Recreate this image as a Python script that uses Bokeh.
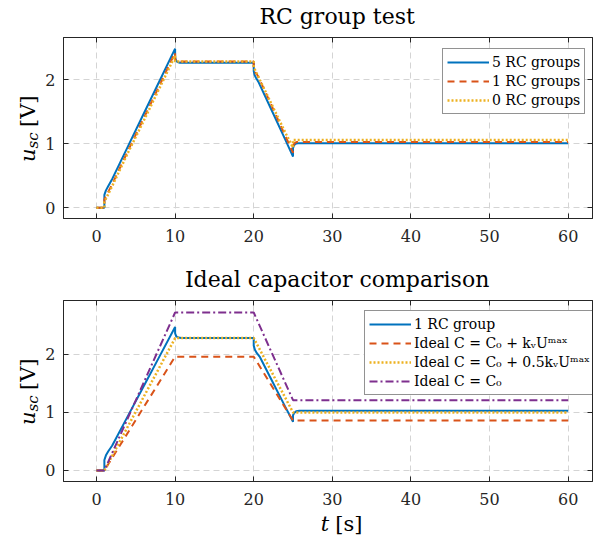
import math
from bokeh.plotting import figure
from bokeh.models import Range1d, LinearAxis, Label, Legend, LegendItem
from bokeh.layouts import column, row
from bokeh.embed import file_html
from bokeh.resources import INLINE

FONT = "DejaVu Serif"
INK = "#262626"
BLUE = "#0072BD"
ORANGE = "#D95319"
YELLOW = "#EDB120"
PURPLE = "#7E2F8E"

x_ticks = [0, 10, 20, 30, 40, 50, 60]
y_ticks = [0, 1, 2]

# ---- top panel: RC group test ----
t_rc5 = [0, 1, 1, 1.2, 1.5, 2, 4, 6, 8, 10, 10, 10.1, 10.3, 10.6, 20, 20, 20.1, 20.3, 20.6, 22, 24, 25, 25, 25.1, 25.3, 25.6, 60]
u_rc5 = [0, 0, 0.20, 0.27, 0.34, 0.45, 0.96, 1.47, 1.98, 2.49, 2.36, 2.31, 2.28, 2.27, 2.27, 2.14, 2.08, 2.03, 1.97, 1.60, 1.07, 0.80, 0.93, 0.97, 1.00, 1.01, 1.01]

t_rc1 = [0, 1, 1, 1.3, 2, 4, 6, 8, 10, 10, 10.2, 10.5, 20, 20, 20.2, 20.5, 22, 24, 25, 25, 25.2, 25.5, 60]
u_rc1 = [0, 0, 0.13, 0.20, 0.37, 0.89, 1.40, 1.91, 2.43, 2.33, 2.30, 2.29, 2.29, 2.17, 2.12, 2.07, 1.67, 1.13, 0.86, 0.97, 1.01, 1.03, 1.03]

t_rc0 = [0, 1, 1, 2, 4, 6, 8, 10, 10, 20, 20, 22, 24, 25, 25, 60]
u_rc0 = [0, 0, 0.09, 0.34, 0.86, 1.36, 1.87, 2.38, 2.29, 2.29, 2.20, 1.69, 1.18, 0.94, 1.06, 1.06]

# ---- bottom panel: ideal capacitor comparison ----
t_b1 = [0, 1, 1, 1.2, 1.5, 2, 4, 6, 8, 10, 10, 10.15, 10.4, 10.8, 20, 20, 20.15, 20.4, 20.8, 22, 24, 25, 25, 25.15, 25.4, 25.8, 60]
u_b1 = [0, 0, 0.18, 0.26, 0.33, 0.43, 0.94, 1.45, 1.96, 2.47, 2.36, 2.31, 2.29, 2.28, 2.28, 2.15, 2.08, 2.02, 1.95, 1.63, 1.10, 0.84, 0.95, 0.99, 1.02, 1.03, 1.03]

t_ideal = [0, 1, 10, 20, 25, 60]
u_ideal_kv = [0, 0, 1.96, 1.96, 0.86, 0.86]
u_ideal_half = [0, 0, 2.28, 2.28, 1.00, 1.00]
u_ideal_c0 = [0, 0, 2.72, 2.72, 1.21, 1.21]

top_labels = ["5 RC groups", "1 RC groups", "0 RC groups"]
bottom_labels = ["1 RC group",
                 "Ideal C = C\u2080 + k\u1d65U\u1d50\u1d43\u02e3",
                 "Ideal C = C\u2080 + 0.5k\u1d65U\u1d50\u1d43\u02e3",
                 "Ideal C = C\u2080"]
titles = ["RC group test", "Ideal capacitor comparison"]

LW = 42       # left label strip width
MW = 551      # main column width
FH = 181      # frame height
BB = 32       # bottom border (tick labels)


def text_fig(w, h):
    f = figure(width=w, height=h, x_range=Range1d(0, w), y_range=Range1d(0, h),
               output_backend="svg", toolbar_location=None, min_border=0,
               min_border_left=0, min_border_right=0, min_border_top=0, min_border_bottom=0,
               x_axis_location=None, y_axis_location=None)
    f.outline_line_color = None
    f.grid.visible = False
    f.background_fill_color = "white"
    f.border_fill_color = "white"
    return f


def make_fig(yr):
    p = figure(width=MW, height=1 + FH + BB, x_range=Range1d(-4.2, 63.1), y_range=Range1d(*yr),
               output_backend="svg", toolbar_location=None,
               min_border_left=20, min_border_right=1, min_border_top=1, min_border_bottom=BB)
    p.outline_line_color = INK
    p.outline_line_width = 1
    p.background_fill_color = "white"
    p.border_fill_color = "white"
    for ax in (p.xaxis[0], p.yaxis[0]):
        ax.axis_line_color = INK
        ax.major_tick_line_color = INK
        ax.major_tick_in = 5
        ax.major_tick_out = 0
        ax.minor_tick_line_color = None
        ax.major_label_text_font = FONT
        ax.major_label_text_font_size = "16px"
        ax.major_label_text_color = INK
    p.xaxis[0].major_label_standoff = 11
    p.yaxis[0].major_label_standoff = 8
    p.xaxis[0].ticker = x_ticks
    p.yaxis[0].ticker = y_ticks
    for place, ticks in (("above", x_ticks), ("right", y_ticks)):
        ax = LinearAxis(ticker=ticks, major_tick_in=5, major_tick_out=0,
                        axis_line_color=INK, major_tick_line_color=INK,
                        minor_tick_line_color=None, major_label_text_font_size="0px",
                        major_label_text_color=None, major_label_standoff=0)
        p.add_layout(ax, place)
    for g in (p.xgrid[0], p.ygrid[0]):
        g.grid_line_color = "#d4d4d4"
        g.grid_line_dash = "6 4"
        g.grid_line_width = 1
    return p


def add_legend(p, items, loc):
    leg = Legend(items=items, location=loc)
    leg.border_line_color = INK
    leg.border_line_width = 1
    leg.background_fill_color = "white"
    leg.background_fill_alpha = 1
    leg.label_text_font = FONT
    leg.label_text_font_size = "14px"
    leg.label_text_color = "black"
    leg.glyph_width = 42
    leg.glyph_height = 18
    leg.label_height = 18
    leg.label_standoff = 3
    leg.padding = 4
    leg.spacing = 1
    leg.margin = 0
    p.add_layout(leg)


def add_ylabel(f, yc):
    y0 = yc - 34
    common = dict(x_units="data", y_units="data", angle=math.pi / 2, text_color="black",
                  text_font=FONT, text_align="left", text_baseline="middle")
    f.add_layout(Label(x=27, y=y0, text="u", text_font_style="italic", text_font_size="21px", **common))
    f.add_layout(Label(x=32.3, y=y0 + 13.5, text="sc", text_font_style="italic", text_font_size="15px", **common))
    f.add_layout(Label(x=27, y=y0 + 35, text="[V]", text_font_size="21px", **common))


def add_title(f, text, y):
    f.add_layout(Label(x=285, y=y, text=text, text_font=FONT, text_font_size="22px",
                       text_color="black", text_align="center", text_baseline="middle"))


# ---- top figure ----
p1 = make_fig((-0.17, 2.665))
r1 = p1.line(t_rc5, u_rc5, line_color=BLUE, line_width=2)
r2 = p1.line(t_rc1, u_rc1, line_color=ORANGE, line_width=2, line_dash="7 5")
r3 = p1.line(t_rc0, u_rc0, line_color=YELLOW, line_width=2.5, line_dash="2 2")
add_legend(p1, [LegendItem(label=top_labels[0], renderers=[r1]),
                LegendItem(label=top_labels[1], renderers=[r2]),
                LegendItem(label=top_labels[2], renderers=[r3])], (379, 104))

# ---- bottom figure ----
p2 = make_fig((-0.19, 2.927))
s1 = p2.line(t_b1, u_b1, line_color=BLUE, line_width=2)
s2 = p2.line(t_ideal, u_ideal_kv, line_color=ORANGE, line_width=2, line_dash="7 5")
s3 = p2.line(t_ideal, u_ideal_half, line_color=YELLOW, line_width=2.5, line_dash="2 2")
s4 = p2.line(t_ideal, u_ideal_c0, line_color=PURPLE, line_width=2, line_dash="8 3 2 3")
add_legend(p2, [LegendItem(label=bottom_labels[0], renderers=[s1]),
                LegendItem(label=bottom_labels[1], renderers=[s2]),
                LegendItem(label=bottom_labels[2], renderers=[s3]),
                LegendItem(label=bottom_labels[3], renderers=[s4])], (301, 86))

# ---- text strips ----
T1H, T2H, XH = 36, 49, 24
t1 = text_fig(MW, T1H)
add_title(t1, titles[0], 19.6)
t2 = text_fig(MW, T2H)
add_title(t2, titles[1], 19.6)
xl = text_fig(MW, XH)
xl.add_layout(Label(x=268, y=13.2, text="t", text_font=FONT, text_font_style="italic",
                    text_font_size="21px", text_color="black", text_align="left",
                    text_baseline="middle"))
xl.add_layout(Label(x=283, y=13.2, text="[s]", text_font=FONT, text_font_size="21px",
                    text_color="black", text_align="left", text_baseline="middle"))

H = T1H + p1.height + T2H + p2.height + XH
left = text_fig(LW, H)
c1 = T1H + 1 + FH / 2
c2 = T1H + p1.height + T2H + 1 + FH / 2
add_ylabel(left, H - c1)
add_ylabel(left, H - c2)

layout = row(left, column(t1, p1, t2, p2, xl, spacing=0), spacing=0)
open("out.html", "w").write(file_html(layout, INLINE))
